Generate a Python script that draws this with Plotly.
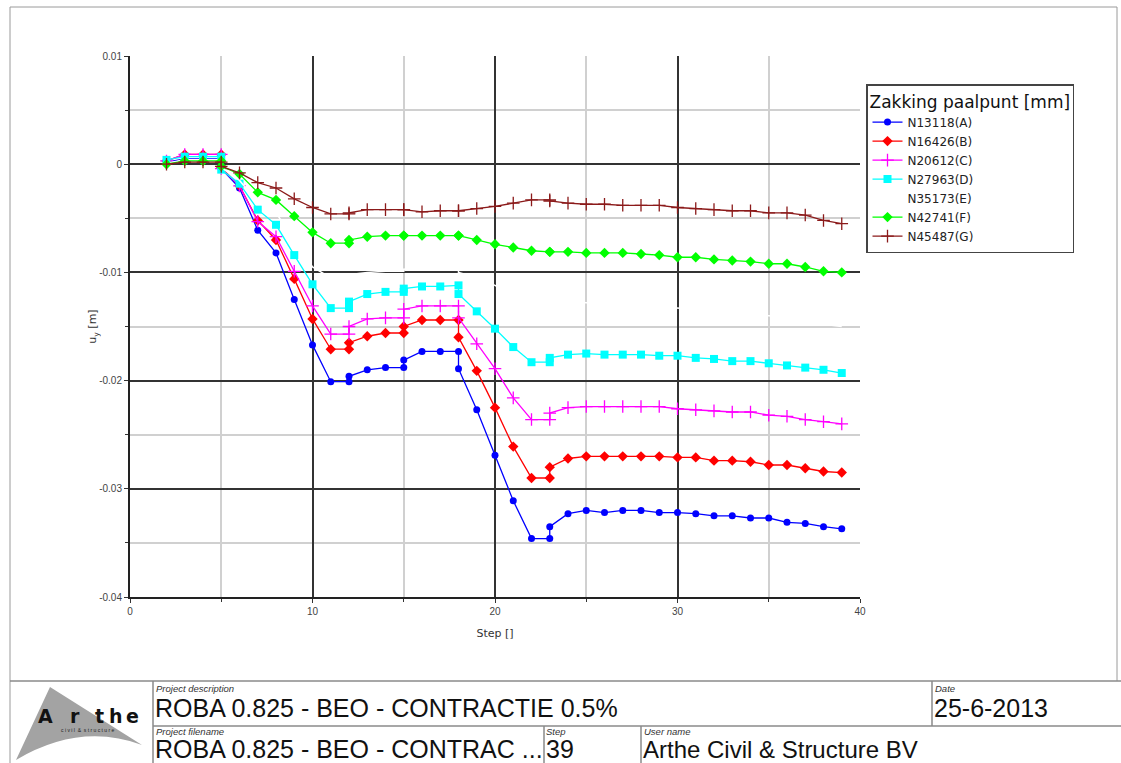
import plotly.graph_objects as go

# ---------------- data ----------------
steps = [2, 3, 4, 5, 5, 6, 7, 8, 9, 10, 11, 12, 12, 13, 14, 15, 15, 16, 17, 18, 18,
         19, 20, 21, 22, 23, 23, 24, 25, 26, 27, 28, 29, 30, 31, 32, 33, 34, 35, 36, 37, 38, 39]

series_names = ["N13118(A)", "N16426(B)", "N20612(C)", "N27963(D)",
                "N35173(E)", "N42741(F)", "N45487(G)"]

uy_A = [0.0002, 0.0005, 0.0005, 0.0005, -0.0004,
        -0.0022, -0.0061, -0.0082, -0.0125, -0.0167, -0.0201,
        -0.0201, -0.0196, -0.0190, -0.0188, -0.0188, -0.0181, -0.0173, -0.0173, -0.0173, -0.0189,
        -0.0227, -0.0269, -0.0311, -0.0346, -0.0346, -0.0335,
        -0.0323, -0.0320, -0.0322, -0.0320, -0.0320, -0.0322, -0.0322, -0.0323,
        -0.0325, -0.0325, -0.0327, -0.0327, -0.0331, -0.0332, -0.0335, -0.0337]
uy_B = [0.0003, 0.0009, 0.0009, 0.0009, -0.0003,
        -0.0020, -0.0052, -0.0070, -0.0106, -0.0143, -0.0171,
        -0.0171, -0.0165, -0.0159, -0.0156, -0.0156, -0.0150, -0.0144, -0.0144, -0.0144, -0.0160,
        -0.0191, -0.0225, -0.0261, -0.0290, -0.0290, -0.0280,
        -0.0272, -0.0270, -0.0270, -0.0270, -0.0270, -0.0270, -0.0271, -0.0271,
        -0.0274, -0.0274, -0.0275, -0.0278, -0.0278, -0.0281, -0.0284, -0.0285]
uy_C = [0.0003, 0.0009, 0.0009, 0.0009, -0.0004,
        -0.0020, -0.0053, -0.0067, -0.0099, -0.0131, -0.0157,
        -0.0157, -0.0150, -0.0143, -0.0142, -0.0142, -0.0134, -0.0131, -0.0131, -0.0131, -0.0142,
        -0.0166, -0.0189, -0.0216, -0.0236, -0.0236, -0.0230,
        -0.0225, -0.0224, -0.0224, -0.0224, -0.0224, -0.0224, -0.0226, -0.0227,
        -0.0228, -0.0229, -0.0229, -0.0232, -0.0233, -0.0236, -0.0238, -0.0240]
uy_D = [0.0004, 0.0007, 0.0007, 0.0007, -0.0005,
        -0.0018, -0.0042, -0.0056, -0.0084, -0.0111, -0.0133,
        -0.0133, -0.0127, -0.0120, -0.0118, -0.0118, -0.0115, -0.0113, -0.0113, -0.0112, -0.0120,
        -0.0136, -0.0152, -0.0169, -0.0183, -0.0183, -0.0179,
        -0.0176, -0.0175, -0.0176, -0.0176, -0.0176, -0.0177, -0.0177, -0.0179,
        -0.0180, -0.0182, -0.0182, -0.0184, -0.0186, -0.0188, -0.0190, -0.0193]
uy_E = [0.0001, 0.0004, 0.0004, 0.0004, -0.0003,
        -0.0015, -0.0035, -0.0045, -0.0070, -0.0095, -0.0105,
        -0.0105, -0.0102, -0.0100, -0.0099, -0.0099, -0.0097, -0.0096, -0.0096, -0.0096, -0.0100,
        -0.0105, -0.0112, -0.0122, -0.0130, -0.0130, -0.0128,
        -0.0127, -0.0128, -0.0129, -0.0130, -0.0131, -0.0132, -0.0133, -0.0134,
        -0.0135, -0.0136, -0.0138, -0.0140, -0.0142, -0.0145, -0.0148, -0.0150]
uy_F = [0.0000, 0.0003, 0.0003, 0.0003, -0.0002,
        -0.0009, -0.0026, -0.0033, -0.0048, -0.0063, -0.0073,
        -0.0073, -0.0070, -0.0067, -0.0066, -0.0066, -0.0066, -0.0066, -0.0066, -0.0066, -0.0066,
        -0.0070, -0.0074, -0.0077, -0.0080, -0.0081, -0.0081,
        -0.0081, -0.0082, -0.0082, -0.0082, -0.0083, -0.0084, -0.0086, -0.0086,
        -0.0088, -0.0089, -0.0090, -0.0092, -0.0092, -0.0095, -0.0099, -0.0100]
uy_G = [0.0000, 0.0002, 0.0002, 0.0002, -0.0002,
        -0.0008, -0.0017, -0.0022, -0.0032, -0.0040, -0.0046,
        -0.0046, -0.0045, -0.0042, -0.0042, -0.0042, -0.0042, -0.0044, -0.0043, -0.0043, -0.0043,
        -0.0041, -0.0039, -0.0036, -0.0033, -0.0033, -0.0034,
        -0.0036, -0.0037, -0.0037, -0.0038, -0.0038, -0.0038, -0.0040, -0.0041,
        -0.0042, -0.0043, -0.0043, -0.0045, -0.0045, -0.0047, -0.0052, -0.0055]

x_tickvals = [0, 10, 20, 30, 40]
x_ticktext = ["0", "10", "20", "30", "40"]
y_tickvals = [0.01, 0, -0.01, -0.02, -0.03, -0.04]
y_ticktext = ["0.01", "0", "-0.01", "-0.02", "-0.03", "-0.04"]

legend_title = "Zakking paalpunt [mm]"
x_title = "Step []"
y_title = "u<sub>y</sub> [m]"

project_description = "ROBA 0.825 - BEO - CONTRACTIE 0.5%"
project_filename = "ROBA 0.825 - BEO - CONTRAC ..."
step_value = "39"
user_name = "Arthe Civil & Structure BV"
date_value = "25-6-2013"

# ---------------- layout helpers ----------------
W, H = 1121, 763
L, R, T, B = 130, 860, 56, 597


def px(x):
    return (x - L) / (R - L)


def py(y):
    return (B - y) / (B - T)


styles = [
    ("#0000FF", "circle", 7, 0),
    ("#FF0000", "diamond", 8, 0),
    ("#FF00FF", "cross-thin", 9, 1.3),
    ("#00FFFF", "square", 8, 0),
    ("#FFFFFF", None, 0, 0),
    ("#00FF00", "diamond", 8, 0),
    ("#8B1A1A", "cross-thin", 9, 1.3),
]
data = [uy_A, uy_B, uy_C, uy_D, uy_E, uy_F, uy_G]

fig = go.Figure()
for name, vals, (col, sym, size, lw) in zip(series_names, data, styles):
    if sym is None:
        fig.add_trace(go.Scatter(x=steps, y=vals, name=name, mode="lines",
                                 line=dict(color=col, width=1.5)))
    else:
        fig.add_trace(go.Scatter(
            x=steps, y=vals, name=name, mode="lines+markers",
            line=dict(color=col, width=1.3),
            marker=dict(symbol=sym, size=size, color=col,
                        line=dict(color=col, width=lw))))

font_main = "Liberation Sans, Arial, sans-serif"

fig.update_xaxes(
    range=[0, 40], tickvals=x_tickvals, ticktext=x_ticktext,
    showgrid=True, gridcolor="#333333", gridwidth=1.5,
    minor=dict(dtick=5, showgrid=True, gridcolor="#d0d0d0", gridwidth=1.5,
               ticks="outside", ticklen=3, tickcolor="#333"),
    ticks="outside", ticklen=4, tickcolor="#333",
    showline=True, linecolor="#222", linewidth=2,
    zeroline=False,
    tickfont=dict(family=font_main, size=10, color="#444"),
    title=dict(text=x_title, font=dict(family="DejaVu Sans, sans-serif", size=11, color="#333"),
               standoff=13),
)
fig.update_yaxes(
    range=[-0.04, 0.01], tickvals=y_tickvals, ticktext=y_ticktext,
    showgrid=True, gridcolor="#333333", gridwidth=1.5,
    minor=dict(dtick=0.005, showgrid=True, gridcolor="#d0d0d0", gridwidth=1.5,
               ticks="outside", ticklen=3, tickcolor="#333"),
    ticks="outside", ticklen=4, tickcolor="#333",
    showline=True, linecolor="#222", linewidth=2,
    zeroline=False,
    tickfont=dict(family=font_main, size=10, color="#444"),
    title=dict(text=y_title, font=dict(family="DejaVu Sans, sans-serif", size=11, color="#333"),
               standoff=0),
)

shapes = []


def line(x0, y0, x1, y1, color="#999999", width=1.2, layer="above"):
    shapes.append(dict(type="line", xref="paper", yref="paper",
                       x0=px(x0), y0=py(y0), x1=px(x1), y1=py(y1),
                       line=dict(color=color, width=width), layer=layer))


# hide the top gridline at 0.01
line(131.5, T, 858.5, T, color="white", width=2.5, layer="between")

# page frame
line(10, 7, 1117, 7, color="#9a9a9a", width=1)
line(10, 7, 10, 763, color="#9a9a9a", width=1)
line(1117, 7, 1117, 681, color="#9a9a9a", width=1)
# title block
line(10, 681, 1121, 681, color="#8a8a8a", width=1.5)
line(153, 726, 1121, 726, color="#8a8a8a", width=1.5)
line(153, 681, 153, 763, color="#8a8a8a", width=1.5)
line(932, 681, 932, 726, color="#8a8a8a", width=1.5)
line(544, 726, 544, 763, color="#8a8a8a", width=1.5)
line(641, 726, 641, 763, color="#8a8a8a", width=1.5)

# logo (grey sail shape)
path = "M {:.5f},{:.5f} L {:.5f},{:.5f} Q {:.5f},{:.5f} {:.5f},{:.5f} Z".format(
    px(50), py(687), px(16), py(760), px(80), py(722), px(142), py(745))
shapes.append(dict(type="path", xref="paper", yref="paper", path=path,
                   fillcolor="#a3a3a3", line=dict(width=0), layer="above"))

annotations = []


def text(x, y, s, size, color="#111", family=font_main, italic=False, bold=False,
         xanchor="left"):
    if italic:
        s = "<i>" + s + "</i>"
    if bold:
        s = "<b>" + s + "</b>"
    annotations.append(dict(xref="paper", yref="paper", x=px(x), y=py(y), text=s,
                            showarrow=False, xanchor=xanchor, yanchor="middle",
                            font=dict(size=size, color=color, family=family)))


text(154, 688, "Project description", 9.5, "#333", italic=True)
text(153, 708, project_description, 25)
text(154, 731, "Project filename", 9.5, "#333", italic=True)
text(153, 749, project_filename, 25)
text(544, 731, "Step", 9.5, "#333", italic=True)
text(544, 749, step_value, 25)
text(642, 731, "User name", 9.5, "#333", italic=True)
text(641, 749, user_name, 24)
text(933, 688, "Date", 9.5, "#333", italic=True)
text(932, 708, date_value, 25)
# logo letters
for ch, xx in zip(["A", "r", "t", "h", "e"], [45, 75, 99, 116, 132]):
    text(xx, 716, ch, 19, "#111", family="DejaVu Sans, sans-serif", bold=True,
         xanchor="center")
text(88, 730, "c i v i l  &  s t r u c t u r e", 5, "#222", xanchor="center")

fig.update_layout(
    width=W, height=H,
    margin=dict(l=L, r=W - R, t=T, b=H - B),
    paper_bgcolor="white", plot_bgcolor="white",
    showlegend=True,
    legend=dict(
        x=px(866), y=py(84), xanchor="left", yanchor="top",
        bordercolor="#444", borderwidth=1.5, bgcolor="white",
        title=dict(text=legend_title, font=dict(family="DejaVu Sans, sans-serif", size=17, color="#111")),
        font=dict(family="DejaVu Sans, sans-serif", size=12, color="#222"),
        tracegroupgap=0, itemwidth=30,
    ),
    shapes=shapes,
    annotations=annotations,
)

fig.write_html("out.html", config={"displayModeBar": False},
               post_script="document.body.style.margin='0';document.body.style.overflow='hidden';")
